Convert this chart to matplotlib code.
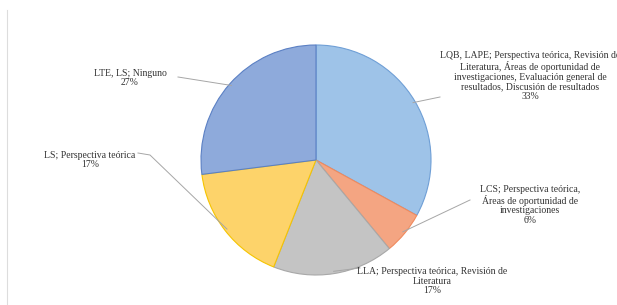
import numpy as np
import matplotlib
matplotlib.use("Agg")
import matplotlib.pyplot as plt

labels = [
    "LQB, LAPE; Perspectiva teórica, Revisión de\nLiteratura, Áreas de oportunidad de\ninvestigaciones, Evaluación general de\nresultados, Discusión de resultados",
    "LCS; Perspectiva teórica,\nÁreas de oportunidad de\ninvestigaciones",
    "LLA; Perspectiva teórica, Revisión de\nLiteratura",
    "LS; Perspectiva teórica",
    "LTE, LS; Ninguno",
]
values = [33, 6, 17, 17, 27]
colors = ["#9ec3e8", "#f4a582", "#c4c4c4", "#fdd36a", "#8eaadb"]
edges = ["#6f9fd6", "#f08a5d", "#a8a8a8", "#f5c400", "#5b80c4"]

W, H = 617, 305
CX, CY, R = 316, 160, 115

fig = plt.figure(figsize=(W / 100, H / 100), dpi=100)
ax = fig.add_axes([(CX - R) / W, (H - CY - R) / H, 2 * R / W, 2 * R / H])

wedges, _ = ax.pie(values, colors=colors, startangle=90, counterclock=False,
                   radius=1, wedgeprops=dict(linewidth=0.8))
for w, ec in zip(wedges, edges):
    w.set_edgecolor(ec)
ax.set_xlim(-1, 1)
ax.set_ylim(-1, 1)
ax.axis("off")


def px(x, y):
    return ((x - CX) / R, (CY - y) / R)


# label centre (pixel) and leader points (pixel)
label_pos = [
    ((530, 76), [(440, 97)]),
    ((530, 205), [(470, 200)]),
    ((432, 281), [(360, 268)]),
    ((90, 160), [(138, 153), (150, 155)]),
    ((130, 78), [(178, 77)]),
]

cum = np.cumsum([0] + values)
total = sum(values)
for i, (lab, v) in enumerate(zip(labels, values)):
    mid = 90 - 360 * (cum[i] + v / 2) / total
    ex, ey = np.cos(np.radians(mid)), np.sin(np.radians(mid))
    (tx, ty), elbows = label_pos[i]
    ax.text(*px(tx, ty), f"{lab}\n{v}%", ha="center", va="center",
            fontsize=7, family="Liberation Serif", color="#333333",
            linespacing=1.1, clip_on=False)
    pts = [px(*e) for e in elbows] + [(ex * 0.98, ey * 0.98)]
    xs, ys = zip(*pts)
    ax.plot(xs, ys, color="#a6a6a6", lw=0.7, clip_on=False)

fig.add_artist(plt.Line2D([7 / W, 7 / W], [0, 1 - 10 / H],
                          color="#dddddd", lw=0.8))

fig.savefig("out.png", dpi=100)
